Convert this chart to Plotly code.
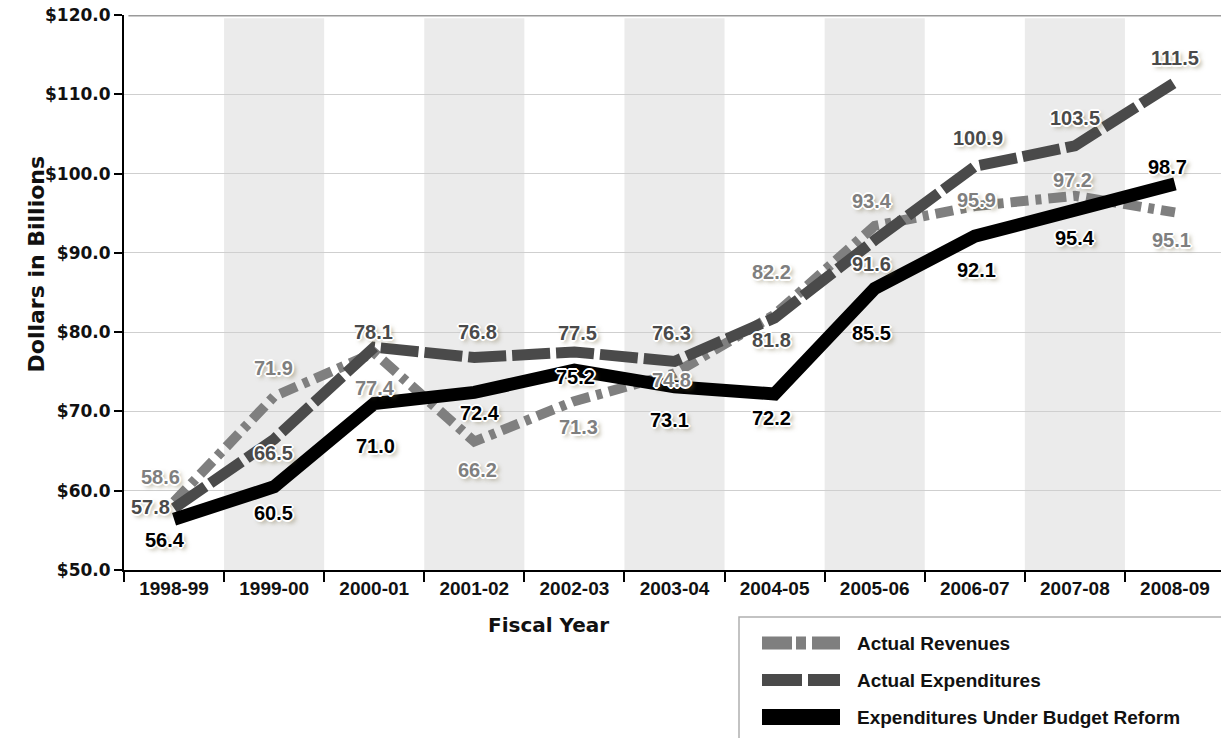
import plotly.graph_objects as go

# ---------------- data ----------------
years = ["1998-99", "1999-00", "2000-01", "2001-02", "2002-03", "2003-04",
         "2004-05", "2005-06", "2006-07", "2007-08", "2008-09"]
revenues = [58.6, 71.9, 77.4, 66.2, 71.3, 74.8, 82.2, 93.4, 95.9, 97.2, 95.1]
expenditures = [57.8, 66.5, 78.1, 76.8, 77.5, 76.3, 81.8, 91.6, 100.9, 103.5, 111.5]
reform = [56.4, 60.5, 71.0, 72.4, 75.2, 73.1, 72.2, 85.5, 92.1, 95.4, 98.7]
series_names = ["Actual Revenues", "Actual Expenditures", "Expenditures Under Budget Reform"]
y_ticks = [50, 60, 70, 80, 90, 100, 110, 120]

# ---------------- styling ----------------
C_REV = "#7f7f7f"
C_EXP = "#4a4a4a"
C_REF = "#000000"
NUM_FONT = "Liberation Sans, Arial, sans-serif"
WIDE_FONT = "DejaVu Sans, Verdana, sans-serif"
GLOW = ("1px 1px 0 #fff, -1px -1px 0 #fff, 1px -1px 0 #fff, -1px 1px 0 #fff, "
        "2px 0 0 #fff, -2px 0 0 #fff, 0 2px 0 #fff, 0 -2px 0 #fff, "
        "3px 3px 4px rgba(110,100,60,0.55)")

# label offsets in pixels (xshift, yshift) for each series
rev_off = [(-14, 25), (-1, 28), (1, -35), (3, -28), (4, -26), (-3, -7),
           (-3, 43), (-3, 25), (2, 6), (-2, 16), (-3, -28)]
exp_off = [(-24, 1), (-1, -14), (-1, 15), (3, 26), (3, 19), (-3, 28),
           (-3, -22), (-3, -24), (3, 28), (0, 28), (0, 24)]
ref_off = [(-9, -21), (-1, -26), (1, -42), (6, -21), (1, -7), (-5, -33),
           (-3, -24), (-3, -44), (2, -34), (0, -28), (-7, 17)]

fig = go.Figure()

fig.add_trace(go.Scatter(x=years, y=revenues, mode="lines", name=series_names[0],
                         line=dict(color=C_REV, width=10, dash="18px,7px,6px,7px"),
                         showlegend=False))
fig.add_trace(go.Scatter(x=years, y=expenditures, mode="lines", name=series_names[1],
                         line=dict(color=C_EXP, width=11, dash="38px,6px"),
                         showlegend=False))
fig.add_trace(go.Scatter(x=years, y=reform, mode="lines", name=series_names[2],
                         line=dict(color=C_REF, width=13),
                         showlegend=False))

annotations = []
for vals, offs, col in [(revenues, rev_off, C_REV), (expenditures, exp_off, C_EXP),
                        (reform, ref_off, C_REF)]:
    for yr, v, (dx, dy) in zip(years, vals, offs):
        annotations.append(dict(x=yr, y=v, xref="x", yref="y", text=f"{v:.1f}",
                                showarrow=False, xshift=dx, yshift=dy,
                                font=dict(family=NUM_FONT, size=20, color=col,
                                          weight="bold", shadow=GLOW)))

# shaded alternate year bands
shapes = []
for i in range(1, len(years), 2):
    shapes.append(dict(type="rect", xref="x", yref="y", x0=i - 0.5, x1=i + 0.5,
                       y0=50, y1=119.6, fillcolor="#ebebeb", line=dict(width=0),
                       layer="below"))
# top border line
shapes.append(dict(type="line", xref="paper", yref="y", x0=0.004, x1=1, y0=120, y1=120,
                   line=dict(color="#9a9a9a", width=3)))

# ---- manual legend ----
def px_x(px):
    return (px - 124) / 1097

def px_y(py):
    return (570 - py) / 555

shapes.append(dict(type="rect", xref="paper", yref="paper", x0=px_x(739), x1=px_x(1240),
                   y0=px_y(617), y1=px_y(760), line=dict(color="#b0b0b0", width=1.5),
                   fillcolor="white"))
leg_rows = [643, 680, 717]
leg_styles = [dict(color=C_REV, width=13, dash="30px,4px,10px,6px,28px,10px"),
              dict(color=C_EXP, width=12, dash="40px,6px"),
              dict(color=C_REF, width=16)]
for row, st, name in zip(leg_rows, leg_styles, series_names):
    shapes.append(dict(type="line", xref="paper", yref="paper", x0=px_x(762), x1=px_x(840),
                       y0=px_y(row), y1=px_y(row), line=st))
    annotations.append(dict(xref="paper", yref="paper", x=px_x(855), y=px_y(row),
                            xanchor="left", yanchor="middle", text=name, showarrow=False,
                            font=dict(family=NUM_FONT, size=19, color="#111", weight="bold")))

# axis titles
annotations.append(dict(xref="paper", yref="paper", x=px_x(548), y=px_y(639),
                        text="Fiscal Year", showarrow=False,
                        font=dict(family=WIDE_FONT, size=20, color="#111", weight="bold")))
annotations.append(dict(xref="paper", yref="paper", x=px_x(21), y=px_y(264),
                        text="Dollars in Billions", showarrow=False, textangle=-90,
                        font=dict(family=WIDE_FONT, size=22, color="#111", weight="bold")))

fig.update_layout(
    width=1221, height=738,
    margin=dict(l=124, r=0, t=15, b=168),
    paper_bgcolor="white", plot_bgcolor="white",
    shapes=shapes, annotations=annotations,
    showlegend=False,
)
fig.update_xaxes(type="category", categoryorder="array", categoryarray=years,
                 range=[-0.5, 10.46], showgrid=False, showline=True, linecolor="black",
                 linewidth=2, ticks="outside", tickson="boundaries", ticklen=10,
                 tickwidth=1.5, tickcolor="black",
                 tickfont=dict(family=NUM_FONT, size=19, color="#111", weight="bold"))
fig.update_yaxes(range=[50, 120], tickvals=y_ticks,
                 ticktext=[f"${t:.1f}" for t in y_ticks],
                 showgrid=True, gridcolor="#cfcfcf", gridwidth=1, zeroline=False,
                 showline=True, linecolor="black", linewidth=2, ticks="outside",
                 ticklen=8, tickwidth=1.5, tickcolor="black",
                 tickfont=dict(family=WIDE_FONT, size=17, color="#111", weight="bold"))

fig.write_html("out.html")
